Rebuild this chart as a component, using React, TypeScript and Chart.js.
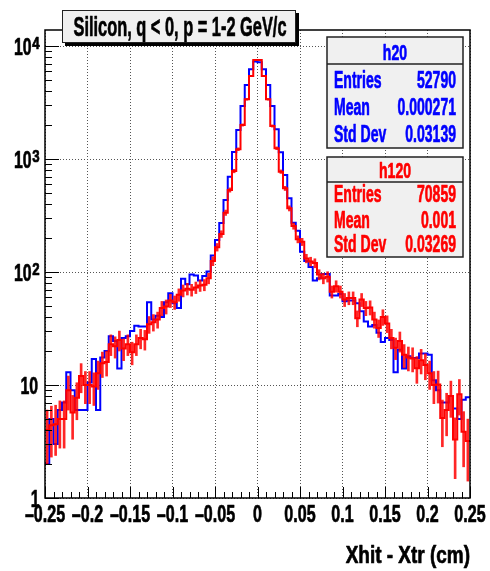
import { useEffect, useRef } from "react";
import { Chart, registerables } from "chart.js";

Chart.register(...registerables);

// Histogram binning: 100 bins over [-0.25, 0.25] cm
const X_MIN = -0.25;
const X_MAX = 0.25;
const BIN_WIDTH = 0.005;
const Y_MIN = 1;
const Y_MAX = 13860;

// h20 (blue, drawn as a plain histogram line)
const h20Counts = [
  2.0, 5.0, 3.0, 6.0, 7.0, 13.0, 9.0, 6.0, 6.0, 6.0,
  10.5, 17, 6.0, 17.5, 20, 27, 24.5, 14, 26, 27,
  30, 33.5, 33, 33, 54, 38, 41, 40, 54, 65,
  53, 48, 87, 78, 95, 93, 84, 92, 101, 140,
  192, 271, 433, 697, 1153, 1805, 2945, 4520, 6220, 7300,
  7200, 6220, 4520, 2945, 1832, 1146, 722, 449, 273, 232,
  151, 125, 111, 84, 88, 96, 96, 62, 62, 64,
  55, 56, 56, 53, 45, 36.5, 33, 34, 29, 24,
  26, 25, 13, 20.5, 14, 18, 17.3, 17.3, 19, 19,
  18.5, 11, 9, 7, 7, 8, 6.2, 5, 7.4, 7.8,
];

// h120 (red, histogram line with statistical error bars)
const h120Counts = [
  4.0, 4.4, 4.5, 5.0, 5.0, 9.0, 5.7, 7.7, 12, 10,
  10, 9.7, 12.7, 15.6, 16, 23, 22, 25, 21, 23,
  19.5, 23, 26, 25.4, 34.5, 36, 38, 48, 49.5, 56,
  54, 63, 68.5, 71, 69.5, 73, 76, 77, 88, 125,
  166, 217, 335, 532, 783, 1220, 2000, 3375, 5430, 7520,
  7520, 5430, 3375, 1960, 1245, 773, 550, 366, 255, 195,
  185, 132, 124, 120, 95, 88, 91, 67, 75, 67,
  57, 59, 59, 39, 57, 48, 48.6, 38, 32, 40,
  35, 26, 21.4, 24.5, 18.5, 17.5, 17.2, 14.1, 16.6, 15,
  12.7, 10, 10.1, 5.1, 6.0, 8.0, 3.3, 8.3, 3.85, 3.2,
];

const xTickValues = [-0.25, -0.2, -0.15, -0.1, -0.05, 0, 0.05, 0.1, 0.15, 0.2, 0.25];
const xTickLabels = [
  "\u20130.25", "\u20130.2", "\u20130.15", "\u20130.1", "\u20130.05",
  "0", "0.05", "0.1", "0.15", "0.2", "0.25",
];
const yDecadeValues = [1, 10, 100, 1000, 10000];
const yDecadeBases = ["1", "10", "10", "10", "10"];
const yDecadeExponents = ["", "", "2", "3", "4"];

const titleText = "Silicon, q < 0, p = 1-2 GeV/c";
const xAxisTitle = "Xhit - Xtr (cm)";
const statLabels = ["Entries", "Mean", "Std Dev"];
const h20Name = "h20";
const h20StatValues = ["52790", "0.000271", "0.03139"];
const h120Name = "h120";
const h120StatValues = ["70859", "0.001", "0.03269"];

const BLUE = "#0000ff";
const RED = "#ff0000";
const FONT = '"Liberation Sans", Arial, Helvetica, sans-serif';

const binEdge = (i: number) => X_MIN + i * BIN_WIDTH;
const binCenter = (i: number) => X_MIN + (i + 0.5) * BIN_WIDTH;

function stepPoints(counts: number[]) {
  const pts = counts.map((c, i) => ({ x: binEdge(i), y: c }));
  pts.push({ x: X_MAX, y: counts[counts.length - 1] });
  return pts;
}

// Poisson uncertainty on each bin content
const poissonErr = (c: number) => Math.sqrt(c);

// Bold, horizontally condensed text
function drawText(
  ctx: CanvasRenderingContext2D,
  text: string,
  x: number,
  y: number,
  size: number,
  color: string,
  align: "left" | "center" | "right",
  sx: number
) {
  ctx.save();
  ctx.font = `bold ${size}px ${FONT}`;
  ctx.textAlign = "left";
  ctx.textBaseline = "alphabetic";
  const w = ctx.measureText(text).width * sx;
  const x0 = align === "left" ? x : align === "center" ? x - w / 2 : x - w;
  ctx.translate(x0, y);
  ctx.scale(sx, 1);
  ctx.fillStyle = color;
  ctx.strokeStyle = color;
  ctx.lineWidth = 0.7;
  ctx.lineJoin = "round";
  ctx.fillText(text, 0, 0);
  ctx.strokeText(text, 0, 0);
  ctx.restore();
  return w;
}

function drawStatsBox(
  ctx: CanvasRenderingContext2D,
  x: number,
  y: number,
  w: number,
  h: number,
  headerH: number,
  name: string,
  values: string[],
  color: string,
  headerBase: number,
  rowBases: number[]
) {
  ctx.save();
  ctx.fillStyle = "#f0f0f0";
  ctx.fillRect(x, y, w, h);
  ctx.strokeStyle = "#222";
  ctx.lineWidth = 1.5;
  ctx.strokeRect(x, y, w, h);
  ctx.beginPath();
  ctx.moveTo(x, y + headerH);
  ctx.lineTo(x + w, y + headerH);
  ctx.stroke();
  ctx.restore();
  drawText(ctx, name, x + w / 2, headerBase, 22, color, "center", 0.64);
  statLabels.forEach((lab, i) => {
    drawText(ctx, lab, x + 7, rowBases[i], 23, color, "left", 0.61);
    drawText(ctx, values[i], x + w - 7, rowBases[i], 23, color, "right", 0.61);
  });
}

const frameDecorations = {
  id: "frameDecorations",
  afterDraw(chart: any) {
    const { ctx, chartArea: a, scales } = chart;
    const xs = scales.x;
    const ys = scales.y;
    ctx.save();

    // Frame
    ctx.strokeStyle = "#000";
    ctx.lineWidth = 1.5;
    ctx.strokeRect(a.left, a.top, a.right - a.left, a.bottom - a.top);

    // X ticks (major every 0.05, minor every 0.01)
    ctx.lineWidth = 1;
    ctx.beginPath();
    for (let k = -25; k <= 25; k++) {
      const px = Math.round(xs.getPixelForValue(k * 0.01)) + 0.5;
      const len = k % 5 === 0 ? 11 : 6;
      ctx.moveTo(px, a.bottom);
      ctx.lineTo(px, a.bottom - len);
    }
    // Y ticks (major at decades, minor at 2..9)
    for (let d = 0; d <= 4; d++) {
      for (let m = 1; m <= 9; m++) {
        const v = m * Math.pow(10, d);
        if (v > Y_MAX) continue;
        const py = Math.round(ys.getPixelForValue(v)) + 0.5;
        const len = m === 1 ? 14 : 7;
        ctx.moveTo(a.left, py);
        ctx.lineTo(a.left + len, py);
      }
    }
    ctx.stroke();
    ctx.restore();

    // X tick labels
    xTickValues.forEach((v, i) => {
      drawText(ctx, xTickLabels[i], xs.getPixelForValue(v), 522, 24, "#000", "center", 0.67);
    });

    // Y tick labels (powers of ten)
    yDecadeValues.forEach((v, i) => {
      const py = ys.getPixelForValue(v);
      const right = 39.5;
      const exp = yDecadeExponents[i];
      if (exp) {
        const ew = drawText(ctx, exp, right, py + 2.5, 17, "#000", "right", 0.78);
        drawText(ctx, yDecadeBases[i], right - ew - 0.5, py + 9, 24, "#000", "right", 0.66);
      } else {
        drawText(ctx, yDecadeBases[i], right - (i === 0 ? 0 : 1.5), py + 9, 24, "#000", "right", 0.66);
      }
    });

    // X axis title
    drawText(ctx, xAxisTitle, a.right, 563, 24, "#000", "right", 0.79);

    // Title box with shadow
    ctx.save();
    const tx = 62, ty = 10, tw = 234, th = 33;
    ctx.fillStyle = "#000";
    ctx.fillRect(tx + 3, ty + th, tw, 3);
    ctx.fillRect(tx + tw, ty + 3, 3, th);
    ctx.fillStyle = "#f0f0f0";
    ctx.fillRect(tx, ty, tw, th);
    ctx.strokeStyle = "#222";
    ctx.lineWidth = 1;
    ctx.strokeRect(tx + 0.5, ty + 0.5, tw - 1, th - 1);
    ctx.restore();
    drawText(ctx, titleText, tx + tw / 2 + 1, 36, 28, "#000", "center", 0.585);

    // Statistics boxes
    drawStatsBox(ctx, 327, 37, 136, 111, 27, h20Name, h20StatValues, BLUE, 60, [88, 115, 142]);
    drawStatsBox(ctx, 327, 157, 136, 100, 25, h120Name, h120StatValues, RED, 178, [202, 228, 252]);
  },
};

function isDecade(v: number) {
  const l = Math.log10(v);
  return Math.abs(l - Math.round(l)) < 1e-9;
}

export default function App() {
  const canvasRef = useRef<HTMLCanvasElement | null>(null);

  useEffect(() => {
    const canvas = canvasRef.current;
    if (!canvas) return;

    const chart = new Chart(canvas, {
      type: "line",
      data: {
        datasets: [
          {
            label: h120Name,
            type: "line",
            data: stepPoints(h120Counts),
            borderColor: RED,
            borderWidth: 2,
            stepped: "before",
            pointRadius: 0,
            fill: false,
            order: 0,
          } as any,
          {
            label: h120Name + " errors",
            type: "bar",
            data: h120Counts.map((c, i) => ({
              x: binCenter(i),
              y: [Math.max(c - poissonErr(c), 1.0001), c + poissonErr(c)],
            })),
            backgroundColor: "rgba(255,0,0,0.85)",
            borderWidth: 0,
            barThickness: 2,
            grouped: false,
            order: 1,
          } as any,
          {
            label: h20Name,
            type: "line",
            data: stepPoints(h20Counts),
            borderColor: BLUE,
            borderWidth: 2,
            stepped: "before",
            pointRadius: 0,
            fill: false,
            order: 2,
          } as any,
        ],
      },
      options: {
        responsive: false,
        maintainAspectRatio: false,
        animation: false,
        devicePixelRatio: 1,
        events: [],
        layout: { padding: { left: 45, right: 20, top: 30, bottom: 73 } },
        plugins: {
          legend: { display: false },
          title: { display: false },
          tooltip: { enabled: false },
        },
        scales: {
          x: {
            type: "linear",
            min: X_MIN,
            max: X_MAX,
            offset: false,
            ticks: { display: false, stepSize: 0.05 },
            grid: {
              offset: false,
              drawTicks: false,
              color: "#555",
              lineWidth: 1,
            },
            border: { display: false, dash: [1, 2] },
          },
          y: {
            type: "logarithmic",
            min: Y_MIN,
            max: Y_MAX,
            beginAtZero: false,
            ticks: { display: false },
            grid: {
              drawTicks: false,
              lineWidth: 1,
              color: (c: any) => (c.tick && isDecade(c.tick.value) ? "#555" : "rgba(0,0,0,0)"),
            },
            border: { display: false, dash: [1, 2] },
          },
        },
      } as any,
      plugins: [frameDecorations],
    });

    return () => chart.destroy();
  }, []);

  return (
    <div
      style={{
        position: "fixed",
        left: 0,
        top: 0,
        width: 490,
        height: 571,
        background: "#ffffff",
      }}
    >
      <canvas ref={canvasRef} width={490} height={571} style={{ width: 490, height: 571, display: "block" }} />
    </div>
  );
}
